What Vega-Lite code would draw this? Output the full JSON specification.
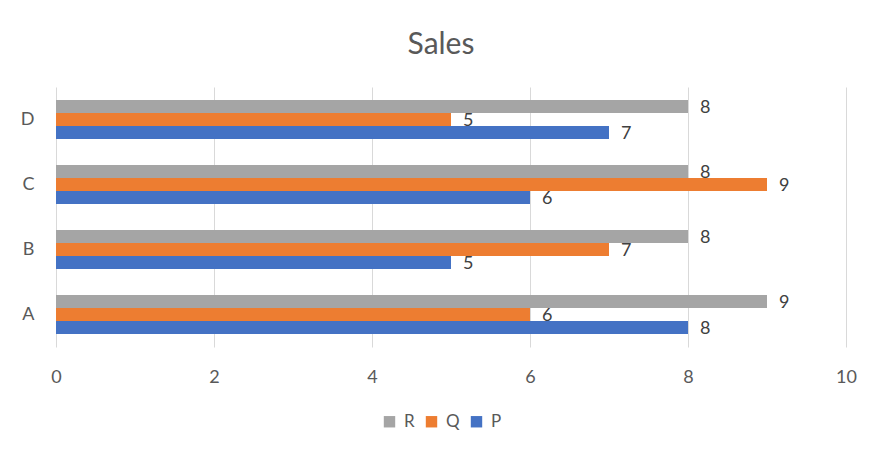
{
  "$schema": "https://vega.github.io/schema/vega-lite/v6.json",
  "autosize": "none",
  "width": 790,
  "height": 260,
  "padding": {"left": 56, "top": 87, "right": 23, "bottom": 103},
  "background": "white",
  "title": {"text": "Sales", "fontSize": 30, "font": "Lato", "fontWeight": "normal", "color": "#595959", "anchor": "middle", "offset": 27, "dx": -10},
  "data": {"values": [
    {"cat": "A", "series": "P", "value": 8},
    {"cat": "A", "series": "Q", "value": 6},
    {"cat": "A", "series": "R", "value": 9},
    {"cat": "B", "series": "P", "value": 5},
    {"cat": "B", "series": "Q", "value": 7},
    {"cat": "B", "series": "R", "value": 8},
    {"cat": "C", "series": "P", "value": 6},
    {"cat": "C", "series": "Q", "value": 9},
    {"cat": "C", "series": "R", "value": 8},
    {"cat": "D", "series": "P", "value": 7},
    {"cat": "D", "series": "Q", "value": 5},
    {"cat": "D", "series": "R", "value": 8}
  ]},
  "encoding": {
    "y": {"field": "cat", "type": "nominal", "sort": "descending",
      "scale": {"paddingInner": 0.4, "paddingOuter": 0.2},
      "axis": {"title": null, "domain": false, "ticks": false, "grid": false, "labelPadding": 22}},
    "yOffset": {"field": "series", "type": "nominal", "sort": ["R", "Q", "P"], "scale": {"paddingInner": 0, "paddingOuter": 0}},
    "x": {"field": "value", "type": "quantitative",
      "scale": {"domain": [0, 10], "nice": false},
      "axis": {"title": null, "values": [0, 2, 4, 6, 8, 10], "domain": false, "ticks": false, "grid": true, "gridColor": "#d9d9d9", "labelPadding": 21, "labelFlush": false}}
  },
  "layer": [
    {"mark": {"type": "bar"},
     "encoding": {
       "color": {"field": "series", "type": "nominal",
         "scale": {"domain": ["R", "Q", "P"], "range": ["#A5A5A5", "#ED7D31", "#4472C4"]},
         "legend": {"title": null, "orient": "none", "legendX": 325, "legendY": 326, "direction": "horizontal", "symbolType": "square", "symbolSize": 130, "symbolStrokeWidth": 0, "columnPadding": 8, "labelOffset": 6}}
     }},
    {"mark": {"type": "text", "align": "left", "baseline": "middle", "dx": 12, "dy": 1, "fontSize": 18, "font": "Lato", "color": "#404040"},
     "encoding": {"text": {"field": "value", "type": "quantitative"}}}
  ],
  "config": {
    "view": {"stroke": null},
    "axis": {"labelFontSize": 18, "labelFont": "Lato", "labelColor": "#595959"},
    "legend": {"labelFontSize": 17, "labelFont": "Lato", "labelColor": "#595959"}
  }
}
